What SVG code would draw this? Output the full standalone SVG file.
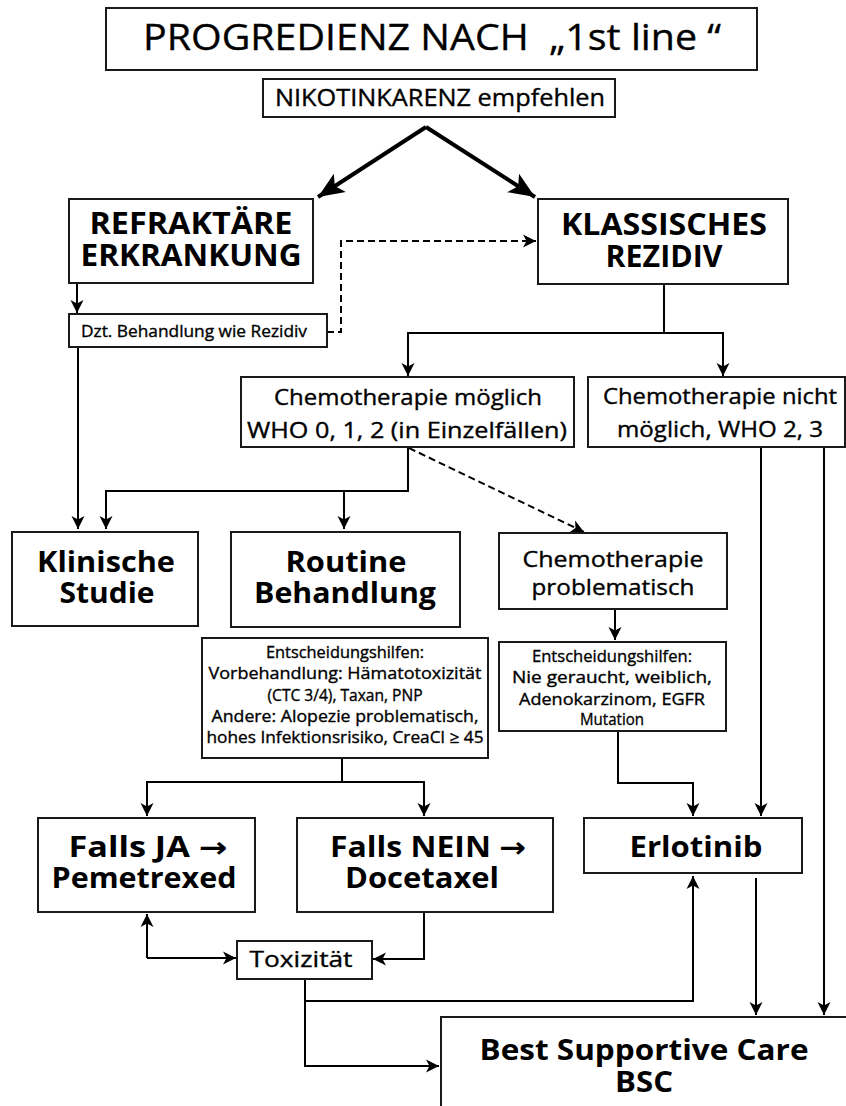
<svg xmlns="http://www.w3.org/2000/svg" width="846" height="1106" viewBox="0 0 846 1106">
<defs>
<marker id="ah" viewBox="-1 -8 15 16" markerWidth="15" markerHeight="16" refX="13" refY="0" orient="auto" markerUnits="userSpaceOnUse">
<path d="M0,-6.5 L13,0 L0,6.5 L3.5,0 z" fill="#000"/>
</marker>
<marker id="big" viewBox="-1 -13 28 26" markerWidth="28" markerHeight="26" refX="26" refY="0" orient="auto" markerUnits="userSpaceOnUse">
<path d="M0,-11 L26,0 L0,11 L6,0 z" fill="#000"/>
</marker>
<style>
rect{fill:#fff;stroke:#1a1a1a;stroke-width:2}
text{font-family:"Open Sans","Noto Sans","DejaVu Sans",sans-serif;fill:#000;text-anchor:middle;stroke:#000;stroke-width:0.35}
.b{font-weight:bold;stroke:none}
.c path{fill:none;stroke:#000;stroke-width:2}
.c .d{stroke-dasharray:7 4}
.c .thick{stroke-width:4}
</style>
</defs>
<g class="c" id="connectors">
<path class="thick" d="M426,127 L318,197" marker-end="url(#big)"/>
<path class="thick" d="M426,127 L535,197" marker-end="url(#big)"/>
<path d="M77,283 V313" marker-end="url(#ah)"/>
<path d="M78,347 V529" marker-end="url(#ah)"/>
<path class="d" d="M327,332 H341 V241 H536" marker-end="url(#ah)"/>
<path d="M664,284 V333 H408 V376" marker-end="url(#ah)"/>
<path d="M664,333 H723 V376" marker-end="url(#ah)"/>
<path d="M408,447 V491 H106 V529" marker-end="url(#ah)"/>
<path d="M344,491 V529" marker-end="url(#ah)"/>
<path class="d" d="M409,448 L584,532" marker-end="url(#ah)"/>
<path d="M615,609 V640" marker-end="url(#ah)"/>
<path d="M342,758 V782 H147 V816" marker-end="url(#ah)"/>
<path d="M342,782 H424 V816" marker-end="url(#ah)"/>
<path d="M618,731 V783 H693 V816" marker-end="url(#ah)"/>
<path d="M761,447 V816" marker-end="url(#ah)"/>
<path d="M824,447 V1015" marker-end="url(#ah)"/>
<path d="M756,878 V1015" marker-end="url(#ah)"/>
<path d="M147,958 V914" marker-end="url(#ah)"/>
<path d="M147,958 H236" marker-end="url(#ah)"/>
<path d="M424,912 V959 H373" marker-end="url(#ah)"/>
<path d="M305,979 V1066 H439" marker-end="url(#ah)"/>
<path d="M305,1001 H693 V876" marker-end="url(#ah)"/>
</g>
<g id="title"><rect x="106" y="8" width="651" height="62"/><text x="432" y="50" font-size="36" textLength="578" lengthAdjust="spacingAndGlyphs" xml:space="preserve">PROGREDIENZ NACH  „1st line “</text></g>
<g id="nikotin"><rect x="263" y="79" width="352" height="38"/><text x="440" y="106" font-size="23" textLength="330" lengthAdjust="spacingAndGlyphs">NIKOTINKARENZ empfehlen</text></g>
<g id="refraktaer"><rect x="69" y="199" width="244" height="84"/><text class="b" x="191" y="234" font-size="31" textLength="203" lengthAdjust="spacingAndGlyphs">REFRAKTÄRE</text><text class="b" x="191" y="266" font-size="31" textLength="221" lengthAdjust="spacingAndGlyphs">ERKRANKUNG</text></g>
<g id="dzt"><rect x="69" y="314" width="258" height="33"/><text x="194" y="337" font-size="16" textLength="226" lengthAdjust="spacingAndGlyphs">Dzt. Behandlung wie Rezidiv</text></g>
<g id="klassisch"><rect x="538" y="199" width="250" height="85"/><text class="b" x="664" y="235" font-size="31" textLength="206" lengthAdjust="spacingAndGlyphs">KLASSISCHES</text><text class="b" x="664" y="267" font-size="31" textLength="117" lengthAdjust="spacingAndGlyphs">REZIDIV</text></g>
<g id="chemo-moeglich"><rect x="241" y="377" width="333" height="70"/><text x="408" y="405" font-size="21.5" textLength="268" lengthAdjust="spacingAndGlyphs">Chemotherapie möglich</text><text x="407" y="438" font-size="21.5" textLength="320" lengthAdjust="spacingAndGlyphs">WHO 0, 1, 2 (in Einzelfällen)</text></g>
<g id="chemo-nicht"><rect x="588" y="377" width="257" height="70"/><text x="720" y="404" font-size="21.5" textLength="234" lengthAdjust="spacingAndGlyphs">Chemotherapie nicht</text><text x="720" y="437" font-size="21.5" textLength="206" lengthAdjust="spacingAndGlyphs">möglich, WHO 2, 3</text></g>
<g id="klinische"><rect x="12" y="532" width="186" height="94"/><text class="b" x="106" y="572" font-size="29" textLength="138" lengthAdjust="spacingAndGlyphs">Klinische</text><text class="b" x="107" y="603" font-size="29" textLength="95" lengthAdjust="spacingAndGlyphs">Studie</text></g>
<g id="routine"><rect x="231" y="532" width="229" height="95"/><text class="b" x="346" y="572" font-size="29" textLength="121" lengthAdjust="spacingAndGlyphs">Routine</text><text class="b" x="345" y="603" font-size="29" textLength="182" lengthAdjust="spacingAndGlyphs">Behandlung</text></g>
<g id="chemo-problem"><rect x="499" y="533" width="228" height="76"/><text x="613" y="567" font-size="21.5" textLength="181" lengthAdjust="spacingAndGlyphs">Chemotherapie</text><text x="613" y="595" font-size="21.5" textLength="163" lengthAdjust="spacingAndGlyphs">problematisch</text></g>
<g id="entsch-links"><rect x="202" y="638" width="286" height="120"/>
<text x="345" y="658" font-size="16.5" textLength="158" lengthAdjust="spacingAndGlyphs">Entscheidungshilfen:</text>
<text x="345" y="679" font-size="16.5" textLength="273" lengthAdjust="spacingAndGlyphs">Vorbehandlung: Hämatotoxizität</text>
<text x="345" y="701" font-size="16.5" textLength="155" lengthAdjust="spacingAndGlyphs">(CTC 3/4), Taxan, PNP</text>
<text x="345" y="722" font-size="16.5" textLength="267" lengthAdjust="spacingAndGlyphs">Andere: Alopezie problematisch,</text>
<text x="345" y="743" font-size="16.5" textLength="277" lengthAdjust="spacingAndGlyphs">hohes Infektionsrisiko, CreaCl ≥ 45</text></g>
<g id="entsch-rechts"><rect x="499" y="642" width="227" height="89"/>
<text x="612" y="662" font-size="16.5" textLength="160" lengthAdjust="spacingAndGlyphs">Entscheidungshilfen:</text>
<text x="612" y="683" font-size="16.5" textLength="200" lengthAdjust="spacingAndGlyphs">Nie geraucht, weiblich,</text>
<text x="612" y="705" font-size="16.5" textLength="186" lengthAdjust="spacingAndGlyphs">Adenokarzinom, EGFR</text>
<text x="612" y="725" font-size="16.5" textLength="64" lengthAdjust="spacingAndGlyphs">Mutation</text></g>
<g id="falls-ja"><rect x="38" y="818" width="217" height="94"/><text class="b" x="148" y="857" font-size="28" textLength="159" lengthAdjust="spacingAndGlyphs">Falls JA →</text><text class="b" x="144" y="888" font-size="28" textLength="185" lengthAdjust="spacingAndGlyphs">Pemetrexed</text></g>
<g id="falls-nein"><rect x="297" y="818" width="256" height="94"/><text class="b" x="428" y="857" font-size="28" textLength="196" lengthAdjust="spacingAndGlyphs">Falls NEIN →</text><text class="b" x="422" y="888" font-size="28" textLength="154" lengthAdjust="spacingAndGlyphs">Docetaxel</text></g>
<g id="erlotinib"><rect x="584" y="818" width="218" height="55"/><text class="b" x="696" y="857" font-size="28" textLength="133" lengthAdjust="spacingAndGlyphs">Erlotinib</text></g>
<g id="toxizitaet"><rect x="237" y="941" width="135" height="38"/><text x="301" y="967" font-size="22" textLength="103" lengthAdjust="spacingAndGlyphs">Toxizität</text></g>
<g id="bsc"><rect x="441" y="1017" width="420" height="100"/><text class="b" x="644" y="1060" font-size="29" textLength="329" lengthAdjust="spacingAndGlyphs">Best Supportive Care</text><text class="b" x="644" y="1092" font-size="29" textLength="58" lengthAdjust="spacingAndGlyphs">BSC</text></g>
</svg>
